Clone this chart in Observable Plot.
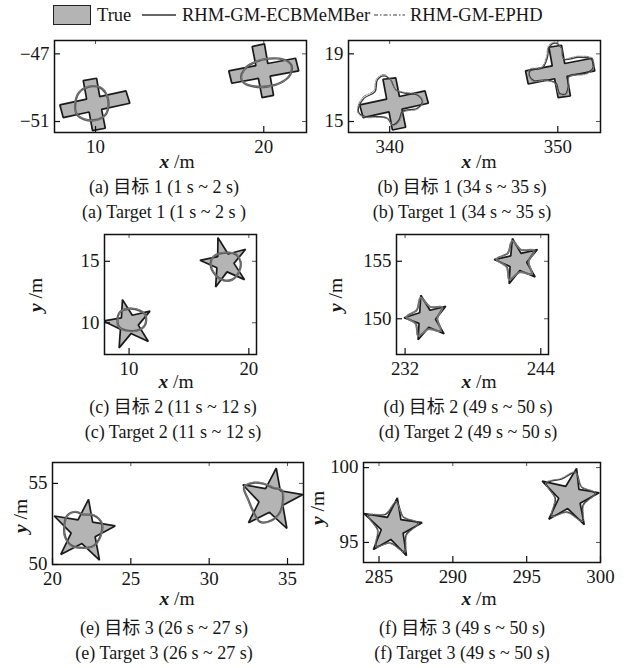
<!DOCTYPE html>
<html><head><meta charset="utf-8">
<script src="https://cdn.jsdelivr.net/npm/d3@7"></script>
<script src="https://cdn.jsdelivr.net/npm/@observablehq/plot@0.6"></script>
<style>
body{margin:0;background:#fff}
#fig{position:relative;width:627px;height:668px;overflow:hidden;background:#fff;font-family:"Liberation Serif","Noto Sans CJK SC",serif;color:#161616}
.abs{position:absolute;white-space:nowrap;line-height:1}
.cap{font-size:18px;transform:translate(-50%,-50%)}
.ax{font-size:18px;transform:translate(-50%,-50%) scaleX(1.08)}
.axy{font-size:18px;transform:translate(-50%,-50%) rotate(-90deg) scaleX(1.08)}
.var{font-style:italic;font-weight:bold}
.leg{font-size:18.5px;transform:translateY(-50%);transform-origin:left center}
svg.panel{position:absolute;overflow:visible}
</style></head>
<body><div id="fig"></div>
<script>
// ---------- data (m) ----------
// (a) target 1, 1 s ~ 2 s
const aTrue1 = [[9.27,-48.58],[10.06,-48.44],[10.25,-49.53],[11.81,-49.19],[12.04,-49.92],[10.36,-50.28],[10.58,-51.40],[9.82,-51.54],[9.62,-50.44],[8.08,-50.77],[7.88,-50.02],[9.47,-49.68]];
const aTrue2 = [[19.31,-46.57],[20.04,-46.41],[20.24,-47.57],[21.89,-47.26],[22.08,-48.01],[20.38,-48.32],[20.58,-49.45],[19.90,-49.59],[19.68,-48.45],[18.10,-48.74],[17.92,-48.01],[19.53,-47.70]];
const aEcb1 = [[8.79,-50.02],[8.99,-49.33],[9.52,-48.97],[10.22,-48.97],[10.61,-49.33],[10.77,-50.02],[10.58,-50.61],[10.02,-50.91],[9.33,-50.87],[8.87,-50.55]];
const aEcb2 = [[18.65,-48.44],[18.91,-47.85],[19.54,-47.46],[20.34,-47.28],[21.13,-47.32],[21.63,-47.65],[21.57,-48.24],[21.03,-48.70],[20.24,-48.93],[19.44,-48.93],[18.85,-48.74]];
const aPhd1 = [[8.76,-49.98],[9.02,-49.28],[9.55,-48.93],[10.25,-48.95],[10.64,-49.36],[10.74,-50.05],[10.55,-50.65],[9.98,-50.94],[9.30,-50.84],[8.85,-50.50]];
const aPhd2 = [[18.68,-48.40],[18.95,-47.80],[19.58,-47.43],[20.38,-47.26],[21.16,-47.36],[21.60,-47.70],[21.52,-48.28],[20.98,-48.73],[20.20,-48.95],[19.40,-48.90],[18.82,-48.70]];
// (b) target 1, 34 s ~ 35 s
const bTrue1 = [[339.60,17.50],[340.36,17.58],[340.58,16.48],[342.10,16.81],[342.30,16.08],[340.73,15.73],[340.95,14.66],[340.16,14.50],[339.96,15.57],[338.42,15.23],[338.22,15.98],[339.82,16.32]];
const bTrue2 = [[349.47,19.39],[350.22,19.51],[350.41,18.43],[352.04,18.74],[352.20,17.99],[350.55,17.67],[350.75,16.51],[350.02,16.41],[349.81,17.53],[348.24,17.22],[348.08,17.99],[349.67,18.29]];
const bEcb1 = [[338.14,15.78],[338.47,16.37],[339.13,16.77],[339.27,17.46],[339.66,17.70],[340.06,17.46],[340.36,16.87],[340.95,16.67],[341.64,16.57],[341.94,16.18],[341.64,15.78],[340.75,15.59],[340.55,15.09],[340.16,14.80],[339.86,15.19],[339.37,15.29],[338.57,15.29],[338.18,15.49]];
const bEcb2 = [[348.38,18.05],[349.07,18.15],[349.37,18.74],[349.51,19.43],[349.86,19.63],[350.22,19.33],[350.36,18.68],[351.25,18.80],[352.00,18.68],[352.08,18.15],[351.65,17.85],[350.66,17.70],[350.62,17.07],[350.46,16.63],[350.10,16.67],[349.90,17.26],[349.27,17.46],[348.58,17.42],[348.32,17.70]];
const bPhd1 = [[338.10,15.85],[338.42,16.45],[339.05,16.82],[339.22,17.52],[339.62,17.78],[340.02,17.52],[340.32,16.92],[340.92,16.72],[341.62,16.62],[341.98,16.20],[341.68,15.74],[340.80,15.55],[340.60,15.02],[340.20,14.74],[339.90,15.14],[339.40,15.24],[338.60,15.24],[338.14,15.45]];
const bPhd2 = [[348.34,18.10],[349.02,18.20],[349.32,18.80],[349.45,19.48],[349.82,19.70],[350.20,19.38],[350.32,18.74],[351.22,18.86],[352.04,18.74],[352.12,18.12],[351.68,17.80],[350.70,17.65],[350.66,17.02],[350.50,16.58],[350.06,16.62],[349.86,17.22],[349.24,17.42],[348.54,17.38],[348.28,17.66]];
// (c) target 2, 11 s ~ 12 s
const cTrue1 = [[9.45,11.88],[10.27,10.61],[11.75,10.95],[10.77,9.81],[11.61,8.48],[10.16,9.12],[9.17,7.96],[9.28,9.48],[7.86,10.14],[9.36,10.40]];
const cTrue2 = [[17.42,16.93],[18.27,15.59],[19.73,15.98],[18.76,14.83],[19.64,13.51],[18.18,14.14],[17.23,12.91],[17.33,14.48],[15.92,15.08],[17.40,15.38]];
const cEcb1 = [[9.03,10.19],[9.25,10.87],[10.00,11.14],[10.84,11.01],[11.39,10.60],[11.31,9.78],[10.70,9.38],[9.73,9.38],[9.17,9.65]];
const cEcb2 = [[16.81,14.81],[17.09,15.41],[17.92,15.68],[18.89,15.57],[19.31,14.95],[19.17,14.13],[18.61,13.51],[17.92,13.45],[17.23,13.86]];
const cPhd1 = [[9.06,10.24],[9.30,10.92],[10.05,11.18],[10.88,11.04],[11.42,10.56],[11.28,9.74],[10.66,9.34],[9.70,9.35],[9.13,9.68]];
const cPhd2 = [[16.84,14.86],[17.13,15.46],[17.96,15.72],[18.93,15.60],[19.34,14.92],[19.14,14.09],[18.57,13.48],[17.88,13.42],[17.20,13.90]];
// (d) target 2, 49 s ~ 50 s
const dTrue1 = [[233.39,152.04],[234.20,150.74],[235.60,151.08],[234.69,149.96],[235.45,148.69],[234.09,149.25],[233.15,148.17],[233.23,149.60],[231.91,150.09],[233.29,150.52]];
const dTrue2 = [[241.49,156.98],[242.25,155.69],[243.70,156.02],[242.75,154.91],[243.50,153.63],[242.14,154.20],[241.20,153.05],[241.28,154.55],[239.87,155.15],[241.34,155.47]];
const dEcb1 = [[233.39,151.82],[234.21,151.04],[235.27,151.00],[234.85,150.03],[235.14,148.97],[234.07,149.10],[233.18,148.53],[232.95,149.56],[232.13,150.16],[233.03,150.75]];
const dEcb2 = [[241.48,156.76],[242.26,155.99],[243.36,155.94],[242.91,154.97],[243.19,153.91],[242.12,154.05],[241.23,153.42],[241.00,154.50],[240.10,155.20],[241.08,155.70]];
const dPhd1 = [[233.35,151.86],[234.20,151.06],[235.32,151.02],[234.86,149.98],[235.12,148.90],[234.05,149.05],[233.12,148.48],[232.90,149.52],[232.06,150.12],[232.98,150.74]];
const dPhd2 = [[241.44,156.80],[242.30,156.02],[243.48,155.96],[242.96,154.92],[243.22,153.86],[242.10,154.00],[241.18,153.38],[240.95,154.46],[240.05,155.16],[241.04,155.68]];
// (e) target 3, 26 s ~ 27 s
const eTrue1 = [[22.30,54.02],[22.56,52.61],[24.00,52.38],[22.72,51.71],[23.00,50.27],[21.88,51.29],[20.53,50.62],[21.19,51.93],[20.11,52.99],[21.63,52.75]];
const eTrue2 = [[34.28,55.94],[34.54,54.55],[35.98,54.31],[34.70,53.65],[34.96,52.22],[33.85,53.22],[32.51,52.58],[33.18,53.86],[32.15,54.92],[33.60,54.68]];
const eEcb1 = [[20.75,52.32],[20.92,52.99],[21.45,53.24],[21.98,53.08],[22.62,53.04],[23.15,52.52],[23.04,51.70],[22.62,51.15],[21.98,51.03],[21.24,51.15],[20.81,51.70]];
const eEcb2 = [[32.23,54.78],[32.83,55.04],[33.47,54.98],[34.11,54.72],[34.64,54.57],[34.70,53.85],[34.53,53.24],[34.00,52.73],[33.25,52.63],[32.83,53.24],[32.51,53.96]];
const ePhd1 = [[20.78,52.36],[20.96,53.02],[21.48,53.27],[22.01,53.11],[22.65,53.07],[23.18,52.55],[23.07,51.67],[22.64,51.12],[21.95,51.00],[21.21,51.12],[20.78,51.67]];
const ePhd2 = [[32.26,54.82],[32.87,55.07],[33.50,55.01],[34.14,54.75],[34.67,54.60],[34.73,53.82],[34.55,53.20],[34.02,52.70],[33.22,52.60],[32.80,53.21],[32.48,53.99]];
// (f) target 3, 49 s ~ 50 s
const fTrue1 = [[286.24,97.98],[286.48,96.53],[287.92,96.32],[286.63,95.62],[286.86,94.12],[285.80,95.20],[284.62,94.53],[285.15,95.85],[283.99,96.93],[285.57,96.67]];
const fTrue2 = [[298.38,99.95],[298.54,98.54],[299.91,98.32],[298.62,97.62],[298.90,96.19],[297.78,97.26],[296.50,96.55],[297.17,97.95],[296.05,99.10],[297.64,98.74]];
const fEcb1 = [[286.19,97.68],[286.65,96.70],[287.62,96.27],[286.84,95.51],[286.72,94.40],[285.76,94.97],[284.82,94.75],[284.92,95.81],[284.28,96.79],[285.46,96.88]];
const fEcb2 = [[298.32,99.66],[298.72,98.70],[299.62,98.28],[298.82,97.50],[298.76,96.46],[297.73,97.03],[296.72,96.77],[296.94,97.93],[296.34,98.94],[297.40,99.25]];
const fPhd1 = [[286.15,97.72],[286.62,96.74],[287.66,96.30],[286.88,95.48],[286.75,94.36],[285.72,94.93],[284.78,94.71],[284.88,95.84],[284.24,96.83],[285.42,96.92]];
const fPhd2 = [[298.28,99.70],[298.70,98.74],[299.66,98.31],[298.86,97.47],[298.79,96.42],[297.70,96.99],[296.68,96.73],[296.90,97.96],[296.30,98.98],[297.36,99.29]];

// axis ticks
const aXT = [10, 20], aYT = [-51, -47];
const bXT = [340, 350], bYT = [15, 19];
const cXT = [10, 20], cYT = [10, 15];
const dXT = [232, 244], dYT = [150, 155];
const eXT = [20, 25, 30, 35], eYT = [50, 55];
const fXT = [285, 290, 295, 300], fYT = [95, 100];

// legend & captions
const legendLabels = ["True", "RHM-GM-ECBMeMBer", "RHM-GM-EPHD"];
const captionsCN = ["(a) 目标 1 (1 s ~ 2 s)", "(b) 目标 1 (34 s ~ 35 s)", "(c) 目标 2 (11 s ~ 12 s)", "(d) 目标 2 (49 s ~ 50 s)", "(e) 目标 3 (26 s ~ 27 s)", "(f) 目标 3 (49 s ~ 50 s)"];
const captionsEN = ["(a) Target 1 (1 s ~ 2 s )", "(b) Target 1 (34 s ~ 35 s)", "(c) Target 2 (11 s ~ 12 s)", "(d) Target 2 (49 s ~ 50 s)", "(e) Target 3 (26 s ~ 27 s)", "(f) Target 3 (49 s ~ 50 s)"];

// ---------- layout ----------
const fig = document.getElementById("fig");
const TRUE_FILL = "#b4b4b4", TRUE_STROKE = "#1a1a1a", PHD = "#808080";
const fmt = d => d < 0 ? "\u2212" + Math.abs(d) : String(d);

function panel(c) {
  const ml = 60, mr = 20, mt = 10, mb = 34, tk = 6;
  const marks = [];
  for (const s of c.shapes) {
    marks.push(Plot.line(s.truth, {x: d => d[0], y: d => d[1], curve: "linear-closed", fill: TRUE_FILL, stroke: TRUE_STROKE, strokeWidth: 1.7, strokeLinejoin: "miter", clip: true}));
  }
  for (const s of c.shapes) {
    marks.push(Plot.line(s.ecb, {x: d => d[0], y: d => d[1], curve: "catmull-rom-closed", stroke: c.ecbColor, strokeWidth: c.ecbWidth, clip: true}));
    marks.push(Plot.line(s.phd, {x: d => d[0], y: d => d[1], curve: "catmull-rom-closed", stroke: PHD, strokeWidth: 1, strokeDasharray: "4,1.5,1,1.5", clip: true}));
  }
  marks.push(
    Plot.tickX(c.xt, {x: d => d, insetTop: c.h - tk, stroke: "#111", strokeWidth: 1.2}),
    Plot.tickX(c.xt, {x: d => d, insetBottom: c.h - 4, stroke: "#555", strokeWidth: 1}),
    Plot.tickY(c.yt, {y: d => d, insetRight: c.w - tk, stroke: "#111", strokeWidth: 1.2}),
    Plot.tickY(c.yt, {y: d => d, insetLeft: c.w - 4, stroke: "#555", strokeWidth: 1}),
    Plot.frame({stroke: "#111", strokeWidth: 1.5}),
    Plot.axisX({ticks: c.xt, tickSize: 0, tickPadding: 8, tickFormat: fmt, label: null}),
    Plot.axisY({ticks: c.yt, tickSize: 0, tickPadding: 5, tickFormat: fmt, label: null})
  );
  const svg = Plot.plot({
    width: c.w + ml + mr, height: c.h + mt + mb,
    marginLeft: ml, marginRight: mr, marginTop: mt, marginBottom: mb,
    x: {domain: c.xd}, y: {domain: c.yd},
    style: {fontFamily: '"Liberation Serif", serif', fontSize: "18px", color: "#161616", background: "transparent", overflow: "visible"},
    marks
  });
  svg.querySelectorAll('g[aria-label$="tick label"] text').forEach(t => {
    const x = parseFloat(t.getAttribute("x") || 0) || 0;
    const tr = t.getAttribute("transform") || "";
    t.setAttribute("transform", `${tr} translate(${x},0) scale(1.05,1) translate(${-x},0)`);
  });
  svg.classList.add("panel");
  svg.style.left = (c.left - ml) + "px";
  svg.style.top = (c.top - mt) + "px";
  fig.appendChild(svg);
}

function html(cls, content, x, y) {
  const el = document.createElement("div");
  el.className = "abs " + cls;
  el.innerHTML = content;
  el.style.left = x + "px";
  el.style.top = y + "px";
  fig.appendChild(el);
  return el;
}

panel({left: 54, top: 40, w: 252, h: 92, xd: [7.56, 22.54], yd: [-51.65, -46.21], xt: aXT, yt: aYT, ecbColor: "#5c5c5c", ecbWidth: 2.3,
  shapes: [{truth: aTrue1, ecb: aEcb1, phd: aPhd1}, {truth: aTrue2, ecb: aEcb2, phd: aPhd2}]});
panel({left: 348, top: 40, w: 252, h: 92, xd: [337.55, 352.54], yd: [14.35, 19.79], xt: bXT, yt: bYT, ecbColor: "#3a3a3a", ecbWidth: 1.3,
  shapes: [{truth: bTrue1, ecb: bEcb1, phd: bPhd1}, {truth: bTrue2, ecb: bEcb2, phd: bPhd2}]});
panel({left: 104, top: 234, w: 152, h: 120, xd: [7.95, 20.64], yd: [7.42, 17.18], xt: cXT, yt: cYT, ecbColor: "#5c5c5c", ecbWidth: 2.3,
  shapes: [{truth: cTrue1, ecb: cEcb1, phd: cPhd1}, {truth: cTrue2, ecb: cEcb2, phd: cPhd2}]});
panel({left: 396, top: 234, w: 152, h: 120, xd: [231.24, 244.68], yd: [146.89, 157.33], xt: dXT, yt: dYT, ecbColor: "#666666", ecbWidth: 2,
  shapes: [{truth: dTrue1, ecb: dEcb1, phd: dPhd1}, {truth: dTrue2, ecb: dEcb2, phd: dPhd2}]});
panel({left: 52, top: 462, w: 251, h: 102, xd: [20, 36.02], yd: [50, 56.29], xt: eXT, yt: eYT, ecbColor: "#5c5c5c", ecbWidth: 2.3,
  shapes: [{truth: eTrue1, ecb: eEcb1, phd: ePhd1}, {truth: eTrue2, ecb: eEcb2, phd: ePhd2}]});
panel({left: 363, top: 462, w: 237, h: 100, xd: [283.95, 300], yd: [93.66, 100.34], xt: fXT, yt: fYT, ecbColor: "#3a3a3a", ecbWidth: 1.4,
  shapes: [{truth: fTrue1, ecb: fEcb1, phd: fPhd1}, {truth: fTrue2, ecb: fEcb2, phd: fPhd2}]});

// axis labels
const xl = '<span class="var">x</span> /m', yl = '<span class="var">y</span> /m';
[[177,162],[479,162],[176,382],[479,382],[177,599],[479,599]].forEach(([x,y]) => html("ax", xl, x, y));
[[36,295],[336,295],[21,516],[318,508]].forEach(([x,y]) => html("axy", yl, x, y));

// captions
const capPos = [[164,187,212],[462,187,212],[173,407,432],[468,407,432],[164,628,653],[462,628,653]];
capPos.forEach(([x,y1,y2], i) => { html("cap", captionsCN[i], x, y1); html("cap", captionsEN[i], x, y2); });

// legend
const box = document.createElement("div");
box.style.cssText = `position:absolute;left:53px;top:5px;width:38px;height:20px;box-sizing:border-box;background:${TRUE_FILL};border:1.6px solid #222`;
fig.appendChild(box);
html("leg", legendLabels[0], 97, 15);
html("leg", legendLabels[1], 182, 15);
html("leg", legendLabels[2], 410, 15);
const ls = d3.create("svg").attr("width", 627).attr("height", 30).style("position", "absolute").style("left", "0px").style("top", "0px");
ls.append("line").attr("x1", 142).attr("x2", 176).attr("y1", 15).attr("y2", 15).attr("stroke", "#333").attr("stroke-width", 1.6);
ls.append("line").attr("x1", 374).attr("x2", 405).attr("y1", 15).attr("y2", 15).attr("stroke", "#7a7a7a").attr("stroke-width", 1.4).attr("stroke-dasharray", "4,2,1.5,2");
fig.appendChild(ls.node());
</script></body></html>
